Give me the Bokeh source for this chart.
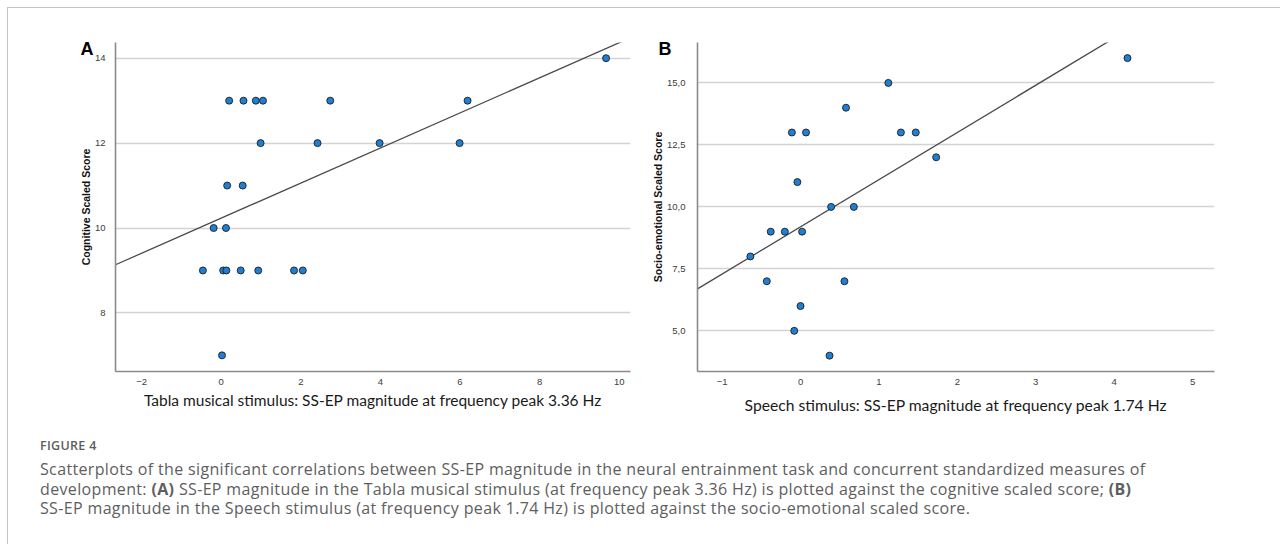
import numpy as np
from bokeh.plotting import figure
from bokeh.models import Range1d, FixedTicker, Div, CustomJSTickFormatter
from bokeh.layouts import row, column
from bokeh.embed import file_html
from bokeh.resources import INLINE

# ---------------- data ----------------
# Panel A: Tabla musical stimulus SS-EP magnitude vs cognitive scaled score
tabla_ssep = [0.20, 0.56, 0.87, 1.05, 2.74, 6.19,
              0.99, 2.42, 3.98, 5.99,
              9.67,
              0.15, 0.54,
              -0.19, 0.12,
              -0.46, 0.05, 0.13, 0.49, 0.93, 1.83, 2.05,
              0.02]
cognitive_score = [13, 13, 13, 13, 13, 13,
                   12, 12, 12, 12,
                   14,
                   11, 11,
                   10, 10,
                   9, 9, 9, 9, 9, 9, 9,
                   7]

# Panel B: Speech stimulus SS-EP magnitude vs socio-emotional scaled score
speech_ssep = [1.12, 0.58, -0.11, 0.07, 1.28, 1.47, 1.73, -0.04, 0.39, 0.68,
               -0.38, -0.20, 0.02, -0.64, -0.43, 0.56, 0.00, -0.08, 0.37, 4.17]
socio_score = [15, 14, 13, 13, 13, 13, 12, 11, 10, 10,
               9, 9, 9, 8, 7, 7, 6, 5, 4, 16]

a_xticks = [-2, 0, 2, 4, 6, 8, 10]
a_yticks = [8, 10, 12, 14]
b_xticks = [-1, 0, 1, 2, 3, 4, 5]
b_yticks = [5.0, 7.5, 10.0, 12.5, 15.0]

a_letter = "A"
b_letter = "B"
a_xlabel = "Tabla musical stimulus: SS-EP magnitude at frequency peak 3.36 Hz"
a_ylabel = "Cognitive Scaled Score"
b_xlabel = "Speech stimulus: SS-EP magnitude at frequency peak 1.74 Hz"
b_ylabel = "Socio-emotional Scaled Score"

caption_title = "FIGURE 4"
caption_lines = [
    "Scatterplots of the significant correlations between SS-EP magnitude in the neural entrainment task and concurrent standardized measures of",
    "development: <b>(A)</b> SS-EP magnitude in the Tabla musical stimulus (at frequency peak 3.36 Hz) is plotted against the cognitive scaled score; <b>(B)</b>",
    "SS-EP magnitude in the Speech stimulus (at frequency peak 1.74 Hz) is plotted against the socio-emotional scaled score.",
]

# ---------------- styling / layout ----------------
AXIS_COL = "#8a8a8a"
GRID_COL = "#d3d3d3"
TICK_COL = "#3c3c3c"
PT_FILL = "#1f80d3"
PT_LINE = "#1c1c1c"
FIT_COL = "#4a4a4a"


def make_panel(xs, ys, xr, yr, xticks, yticks, width, height, mbl, mbr, mbt, mbb,
               letter, letter_offset, xlabel, ylabel, xlabel_size,
               ytick_standoff, xlabel_standoff, ylabel_standoff):
    p = figure(width=width, height=height, title=letter,
               x_range=Range1d(*xr), y_range=Range1d(*yr),
               output_backend="svg", toolbar_location=None,
               min_border_left=mbl, min_border_right=mbr,
               min_border_top=mbt, min_border_bottom=mbb)
    # panel letter drawn as the title, pulled left of the frame and down beside the axis top
    p.title.align = "left"
    p.title.offset = letter_offset
    p.title.vertical_align = "bottom"
    p.title.standoff = -33
    p.title.text_font = "Liberation Sans"
    p.title.text_font_size = "18px"
    p.title.text_font_style = "bold"
    p.title.text_color = "#000000"

    p.outline_line_color = None
    p.background_fill_color = "white"
    p.border_fill_color = "white"
    p.xgrid.visible = False
    p.ygrid.grid_line_color = GRID_COL
    p.ygrid.grid_line_width = 1.4
    p.xaxis.ticker = FixedTicker(ticks=xticks)
    p.yaxis.ticker = FixedTicker(ticks=yticks)
    for ax in (p.xaxis[0], p.yaxis[0]):
        ax.axis_line_color = AXIS_COL
        ax.axis_line_width = 1.6
        ax.major_tick_line_color = None
        ax.minor_tick_line_color = None
        ax.major_label_text_font = "Liberation Sans"
        ax.major_label_text_font_size = "9.5px"
        ax.major_label_text_color = TICK_COL
    p.xaxis.major_label_standoff = 1
    p.yaxis.major_label_standoff = ytick_standoff

    p.xaxis.axis_label = xlabel
    p.xaxis.axis_label_text_font = "Lato"
    p.xaxis.axis_label_text_font_size = xlabel_size
    p.xaxis.axis_label_text_font_style = "normal"
    p.xaxis.axis_label_text_color = "#1a1a1a"
    p.xaxis.axis_label_standoff = xlabel_standoff

    p.yaxis.axis_label = ylabel
    p.yaxis.axis_label_text_font = "Liberation Sans"
    p.yaxis.axis_label_text_font_size = "10.5px"
    p.yaxis.axis_label_text_font_style = "bold"
    p.yaxis.axis_label_text_color = "#111111"
    p.yaxis.axis_label_standoff = ylabel_standoff

    # regression line fitted from the data
    slope, intercept = np.polyfit(np.array(xs), np.array(ys), 1)
    lx = np.array([xr[0], xr[1]])
    p.line(lx, intercept + slope * lx, line_color=FIT_COL, line_width=1.3)
    p.scatter(xs, ys, size=7, fill_color=PT_FILL, line_color=PT_LINE, line_width=0.9)
    return p


# Panel A: frame (page px) 115..630 x 42..371 ; figure origin (8, 8)
a_xr = (-2.656, 10.284)
a_yr = (6.62, 14.37)
pA = make_panel(tabla_ssep, cognitive_score, a_xr, a_yr, a_xticks, a_yticks,
                632, 412, 107, 10, 34, 49, a_letter, -35,
                a_xlabel, a_ylabel, "15.5px", 4, 3, 0)

# Panel B: frame 697..1214 x 42..371 ; figure origin (640, 8)
b_xr = (-1.314, 5.28)
b_yr = (3.36, 16.63)
pB = make_panel(speech_ssep, socio_score, b_xr, b_yr, b_xticks, b_yticks,
                640, 412, 57, 66, 34, 49, b_letter, -39,
                b_xlabel, b_ylabel, "15.7px", 6, 8, 0)
pB.yaxis.formatter = CustomJSTickFormatter(code="return tick.toFixed(1).replace('.', ',');")

caption_html = (
    '<div style="padding:17px 0 0 32px; font-family:\'Open Sans\', sans-serif; color:#5e5e5e;">'
    '<div style="font-size:12.5px; font-weight:600; letter-spacing:0.3px; line-height:18px;">'
    + caption_title + '</div>'
    '<div style="font-size:16px; line-height:19.5px; letter-spacing:0.35px; white-space:nowrap; margin-top:5px;">'
    + "<br>".join(caption_lines) + '</div></div>'
)
cap = Div(text=caption_html, width=1272, height=124, margin=(0, 0, 0, 0))

layout = column(row(pA, pB), cap, margin=(7, 0, 0, 7),
                styles={"border-top": "1px solid #c4c4c4", "border-left": "1px solid #c4c4c4"})

open("out.html", "w").write(file_html(layout, INLINE))
